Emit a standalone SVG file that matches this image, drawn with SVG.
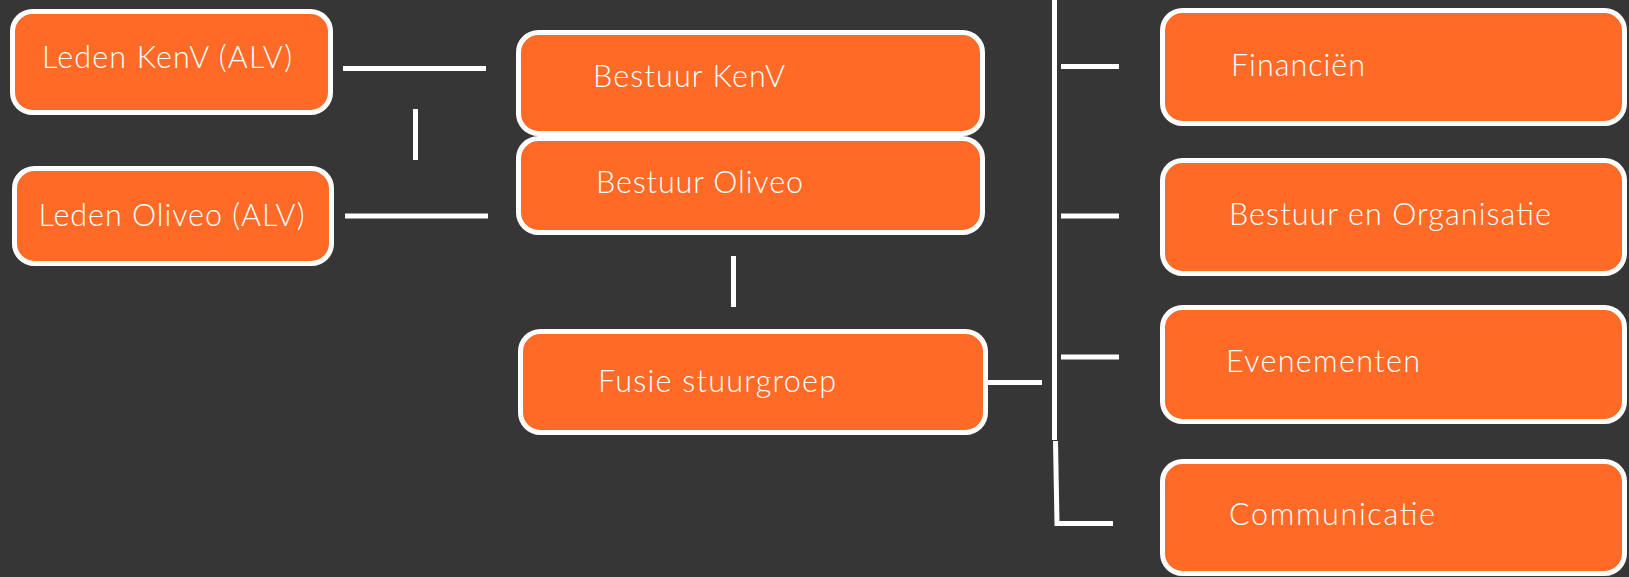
<svg xmlns="http://www.w3.org/2000/svg" width="1629" height="577" viewBox="0 0 1629 577">
<style>
.box{fill:#FF6B27;stroke:#FFFFFF;stroke-width:5}
.lbl{fill:#FFFFFF;font-family:"Lato","Open Sans","Liberation Sans",sans-serif;font-weight:300;font-size:30.5px}
.con{stroke:#FFFFFF;stroke-width:5;fill:none}
</style>
<rect x="0" y="0" width="1629" height="577" fill="#363636"/>
<g id="connectors">
<line class="con" x1="343" y1="68.5" x2="486" y2="68.5"/>
<line class="con" x1="345" y1="216" x2="488" y2="216"/>
<line class="con" x1="415.5" y1="109" x2="415.5" y2="160"/>
<line class="con" x1="733.5" y1="256" x2="733.5" y2="307"/>
<line class="con" x1="988" y1="382.5" x2="1042" y2="382.5"/>
<line class="con" x1="1054.5" y1="0" x2="1054.5" y2="440"/>
<polyline class="con" points="1055.5,441 1057,523.5 1113,523.5"/>
<line class="con" x1="1061" y1="66.5" x2="1119" y2="66.5"/>
<line class="con" x1="1061" y1="216" x2="1119" y2="216"/>
<line class="con" x1="1061" y1="357" x2="1119" y2="357"/>
</g>
<g id="leden-kenv"><rect class="box" x="12.5" y="11.5" width="318" height="101" rx="20"/><text class="lbl" x="42" y="67.5" textLength="250" lengthAdjust="spacing">Leden KenV (ALV)</text></g>
<g id="leden-oliveo"><rect class="box" x="14.5" y="168.5" width="317" height="95" rx="20"/><text class="lbl" x="38.5" y="225.5" textLength="266" lengthAdjust="spacing">Leden Oliveo (ALV)</text></g>
<g id="bestuur-kenv"><rect class="box" x="518.5" y="32.5" width="464" height="101" rx="20"/><text class="lbl" x="593" y="86.5" textLength="192" lengthAdjust="spacing">Bestuur KenV</text></g>
<g id="bestuur-oliveo"><rect class="box" x="518.5" y="138.5" width="464" height="94" rx="20"/><text class="lbl" x="596" y="193" textLength="207" lengthAdjust="spacing">Bestuur Oliveo</text></g>
<g id="fusie"><rect class="box" x="520.5" y="331.5" width="465" height="101" rx="20"/><text class="lbl" x="598" y="392" textLength="238" lengthAdjust="spacing">Fusie stuurgroep</text></g>
<g id="financien"><rect class="box" x="1162.5" y="10.5" width="462" height="113" rx="20"/><text class="lbl" x="1231" y="76" textLength="134" lengthAdjust="spacing">Financiën</text></g>
<g id="bestuur-org"><rect class="box" x="1162.5" y="160.5" width="462" height="113" rx="20"/><text class="lbl" x="1229" y="225" textLength="322" lengthAdjust="spacing">Bestuur en Organisatie</text></g>
<g id="evenementen"><rect class="box" x="1162.5" y="307.5" width="462" height="114" rx="20"/><text class="lbl" x="1226" y="372" textLength="194" lengthAdjust="spacing">Evenementen</text></g>
<g id="communicatie"><rect class="box" x="1162.5" y="461.5" width="462" height="112" rx="20"/><text class="lbl" x="1229" y="524.5" textLength="206" lengthAdjust="spacing">Communicatie</text></g>
</svg>
